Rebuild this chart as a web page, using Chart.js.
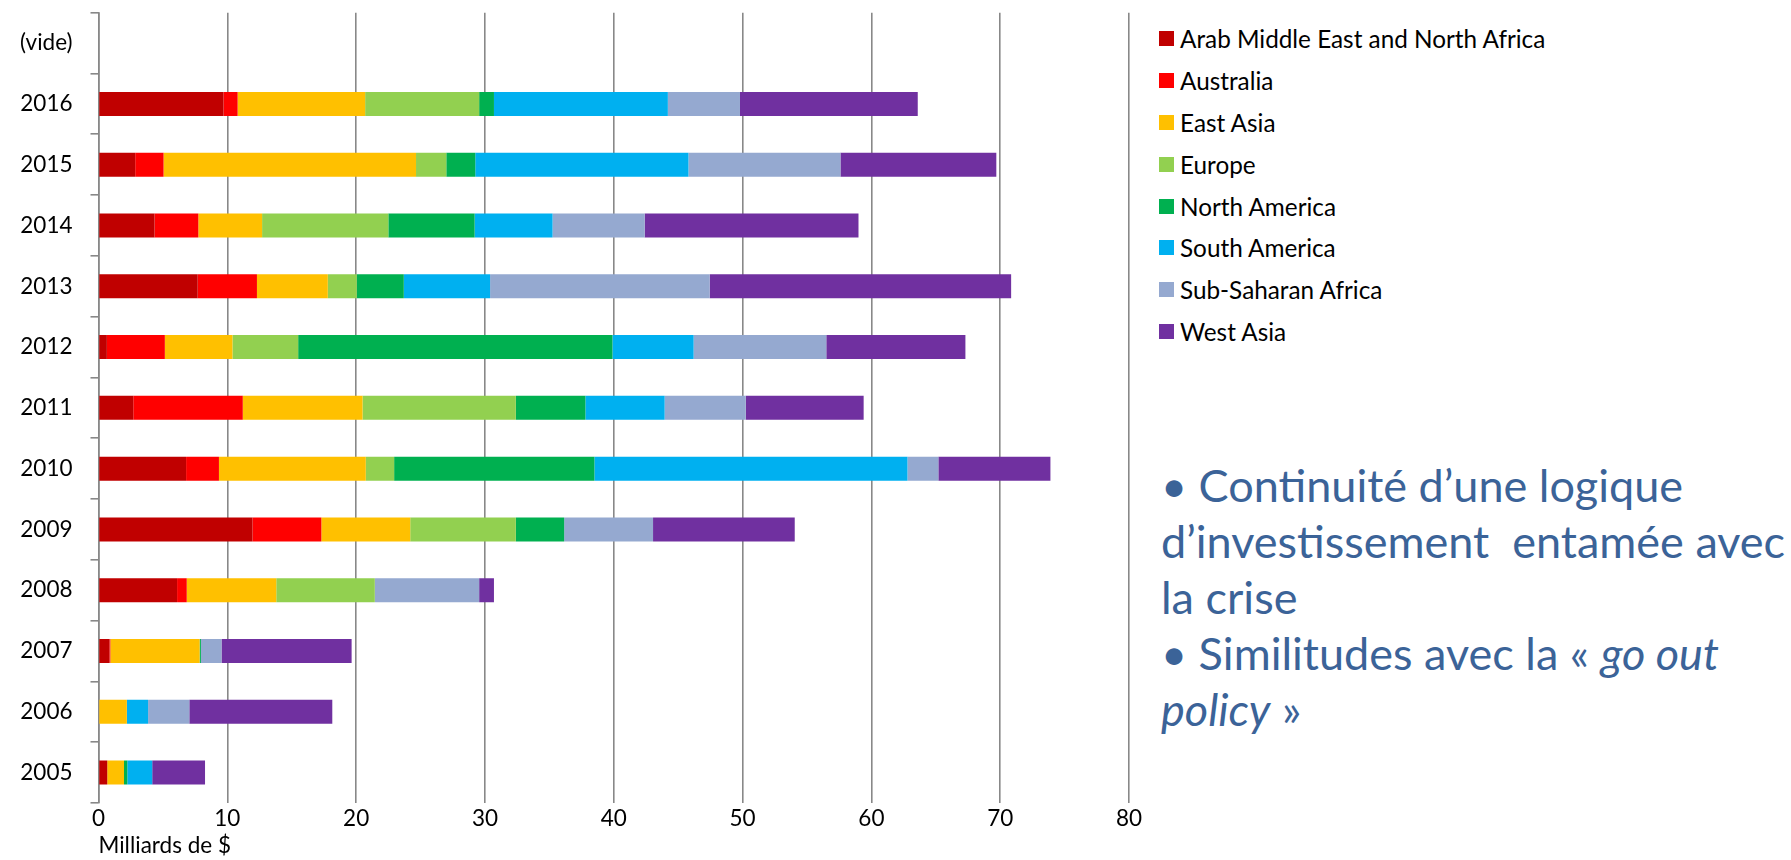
<!DOCTYPE html>
<html>
<head>
<meta charset="utf-8">
<script src="https://cdn.jsdelivr.net/npm/chart.js@4.4.1/dist/chart.umd.min.js"></script>
<style>
  html, body { margin: 0; padding: 0; background: #fff; }
  body { width: 1791px; height: 860px; position: relative; overflow: hidden; font-family: Lato, "Open Sans", sans-serif; }
  #wrap { position: absolute; left: 0; top: 0; width: 1146px; height: 860px; }
  #legend { position: absolute; left: 1159px; top: 18px; }
  .li { height: 41.8px; display: flex; align-items: center; font-size: 24.3px; color: #000; white-space: nowrap; }
  .sw { width: 15px; height: 15px; margin-right: 6px; flex: none; }
  #note { position: absolute; left: 1161px; top: 457px; color: #3b6398; font-size: 45px; line-height: 56px; white-space: pre; }
</style>
</head>
<body>
<div id="wrap"><canvas id="c"></canvas></div>
<div id="legend"></div>
<div id="note">• Continuité d’une logique
d’investissement  entamée avec
la crise
• Similitudes avec la « <i>go out</i>
<i>policy</i> »</div>
<script>
// Categories (top to bottom) and series values (Milliards de $)
const categories = ['(vide)', '2016', '2015', '2014', '2013', '2012', '2011', '2010', '2009', '2008', '2007', '2006', '2005'];
const seriesNames = ['Arab Middle East and North Africa', 'Australia', 'East Asia', 'Europe', 'North America', 'South America', 'Sub-Saharan Africa', 'West Asia'];
const seriesColors = ['#C00000', '#FF0000', '#FFC000', '#92D050', '#00B050', '#00B0F0', '#95A9D0', '#7030A0'];
const arabMENA     = [null, 9.7, 2.85, 4.35, 7.7, 0.65, 2.7, 6.8, 11.95, 6.1, 0.85, 0, 0.68];
const australia    = [null, 1.1, 2.2, 3.4, 4.6, 4.5, 8.5, 2.55, 5.35, 0.75, 0.07, 0, 0];
const eastAsia     = [null, 9.9, 19.6, 4.95, 5.5, 5.25, 9.3, 11.4, 6.9, 6.95, 6.93, 2.2, 1.3];
const europe       = [null, 8.85, 2.35, 9.8, 2.25, 5.1, 11.9, 2.2, 8.2, 7.65, 0, 0, 0];
const northAmerica = [null, 1.15, 2.25, 6.7, 3.65, 24.4, 5.4, 15.55, 3.75, 0, 0.1, 0, 0.26];
const southAmerica = [null, 13.5, 16.55, 6.05, 6.7, 6.3, 6.15, 24.3, 0, 0, 0, 1.65, 1.93];
const subSaharan   = [null, 5.6, 11.8, 7.15, 17.05, 10.3, 6.3, 2.4, 6.9, 8.1, 1.6, 3.2, 0];
const westAsia     = [null, 13.8, 12.1, 16.6, 23.4, 10.8, 9.15, 8.7, 11.0, 1.15, 10.1, 11.1, 4.1];
const xTicks = [0, 10, 20, 30, 40, 50, 60, 70, 80];
const xTitle = 'Milliards de $';

const seriesValues = [arabMENA, australia, eastAsia, europe, northAmerica, southAmerica, subSaharan, westAsia];

const FONT = 'Lato, "Open Sans", sans-serif';
const datasets = seriesNames.map((n, i) => ({
  label: n,
  data: seriesValues[i],
  backgroundColor: seriesColors[i],
  borderWidth: 0,
  barPercentage: 0.395,
  categoryPercentage: 1.0
}));

new Chart(document.getElementById('c'), {
  type: 'bar',
  data: { labels: categories, datasets },
  options: {
    indexAxis: 'y',
    responsive: true,
    maintainAspectRatio: false,
    animation: false,
    layout: { padding: { top: 12.7, right: 17, left: 0, bottom: 0 } },
    plugins: { legend: { display: false }, tooltip: { enabled: false } },
    scales: {
      x: {
        stacked: true,
        min: xTicks[0], max: xTicks[xTicks.length - 1],
        afterBuildTicks(scale) { scale.ticks = xTicks.map(v => ({ value: v })); },
        afterFit(scale) { scale.height = 57; },
        grid: { color: '#888888', lineWidth: 1.6, drawTicks: false },
        border: { display: false },
        ticks: { color: '#000', font: { family: FONT, size: 22.5 }, padding: 2 },
        title: { display: true, text: xTitle, align: 'start', color: '#000', font: { family: FONT, size: 22.5, lineHeight: 1 }, padding: { top: 0, bottom: 3 } }
      },
      y: {
        stacked: true,
        afterFit(scale) { scale.width = 98.5; scale.paddingTop = 0; scale.paddingBottom = 0; },
        grid: { display: true, drawOnChartArea: false, drawTicks: true, tickLength: 8, color: '#888888', lineWidth: 1.6, offset: true },
        border: { display: true, color: '#888888', width: 1.6 },
        ticks: { color: '#000', font: { family: FONT, size: 22.5 }, padding: 18 }
      }
    }
  }
});

const lg = document.getElementById('legend');
seriesNames.forEach((n, i) => {
  const row = document.createElement('div');
  row.className = 'li';
  const sw = document.createElement('span');
  sw.className = 'sw';
  sw.style.background = seriesColors[i];
  const tx = document.createElement('span');
  tx.textContent = n;
  row.appendChild(sw); row.appendChild(tx);
  lg.appendChild(row);
});
</script>
</body>
</html>
